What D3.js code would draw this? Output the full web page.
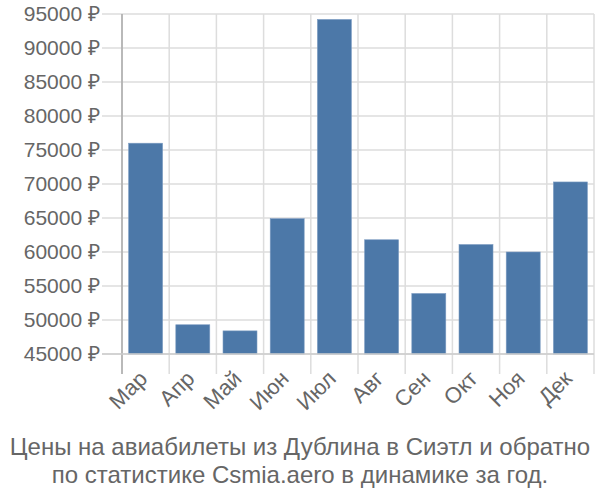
<!DOCTYPE html>
<html>
<head>
<meta charset="utf-8">
<script src="https://cdn.jsdelivr.net/npm/d3@7/dist/d3.min.js"></script>
<style>
  body { margin: 0; background: #fff; }
  svg { display: block; font-family: "Liberation Sans", Arial, sans-serif; }
</style>
</head>
<body>
<svg width="600" height="500"></svg>
<script>
  // DATA

  var months = ["Мар", "Апр", "Май", "Июн", "Июл", "Авг", "Сен", "Окт", "Ноя", "Дек"],
    prices = [76000, 49300, 48400, 64900, 94200, 61800, 53900, 61100, 60000, 70300],
    yTicks = [45000, 50000, 55000, 60000, 65000, 70000, 75000, 80000, 85000, 90000, 95000],
    titleLines = ["Цены на авиабилеты из Дублина в Сиэтл и обратно",
      "по статистике Csmia.aero в динамике за год."];

  // SETUP

  var svg = d3.select("svg"),
    margin = { top: 14, right: 6, bottom: 146, left: 122 },
    width = 600 - margin.left - margin.right,
    height = 500 - margin.top - margin.bottom;

  var x = d3.scaleBand().domain(months).range([0, width]).padding(0),
    y = d3.scaleLinear().domain([45000, 95000]).range([height, 0]);

  var g = svg.append("g")
    .attr("transform", "translate(" + margin.left + "," + margin.top + ")");

  // grid
  g.selectAll(".hgrid")
    .data(yTicks)
    .enter().append("line")
    .attr("class", "hgrid")
    .attr("x1", -20).attr("x2", width)
    .attr("y1", function (d) { return y(d); })
    .attr("y2", function (d) { return y(d); })
    .attr("stroke", "#dddddd").attr("stroke-width", 1.5);

  g.selectAll(".vgrid")
    .data(months.concat(["end"]))
    .enter().append("line")
    .attr("class", "vgrid")
    .attr("x1", function (d, i) { return i * x.step(); })
    .attr("x2", function (d, i) { return i * x.step(); })
    .attr("y1", 0).attr("y2", height + 20)
    .attr("stroke", "#dddddd").attr("stroke-width", 1.5);

  // bars
  var bw = x.bandwidth() * 0.72;
  g.selectAll(".bar")
    .data(prices)
    .enter().append("rect")
    .attr("class", "bar")
    .attr("x", function (d, i) { return x(months[i]) + (x.bandwidth() - bw) / 2; })
    .attr("y", function (d) { return y(d); })
    .attr("width", bw)
    .attr("height", function (d) { return height - y(d); })
    .attr("fill", "#4c78a8")
    .attr("stroke", "#7d9cc2").attr("stroke-width", 0.6);

  // axis lines
  g.append("line")
    .attr("x1", 0).attr("x2", 0).attr("y1", 0).attr("y2", height + 20)
    .attr("stroke", "#aaaaaa").attr("stroke-width", 1.5);
  g.append("line")
    .attr("x1", -20).attr("x2", width).attr("y1", height).attr("y2", height)
    .attr("stroke", "#cccccc").attr("stroke-width", 1.5);

  // y labels
  g.selectAll(".ylab")
    .data(yTicks)
    .enter().append("text")
    .attr("class", "ylab")
    .attr("x", -22)
    .attr("y", function (d) { return y(d); })
    .attr("dy", "0.35em")
    .attr("text-anchor", "end")
    .attr("fill", "#666")
    .style("font-size", "21px")
    .text(function (d) { return d + " ₽"; });

  // x labels
  g.selectAll(".xlab")
    .data(months)
    .enter().append("text")
    .attr("class", "xlab")
    .attr("transform", function (d) {
      return "translate(" + (x(d) + x.bandwidth() / 2 + 3) + "," + (height + 26) + ") rotate(-45)";
    })
    .attr("text-anchor", "end")
    .attr("fill", "#666")
    .style("font-size", "22px")
    .text(function (d) { return d; });

  // title
  svg.selectAll(".title")
    .data(titleLines)
    .enter().append("text")
    .attr("class", "title")
    .attr("x", 300)
    .attr("y", function (d, i) { return 455 + i * 28; })
    .attr("text-anchor", "middle")
    .attr("fill", "#666")
    .style("font-size", "24px")
    .text(function (d) { return d; });
</script>
</body>
</html>
